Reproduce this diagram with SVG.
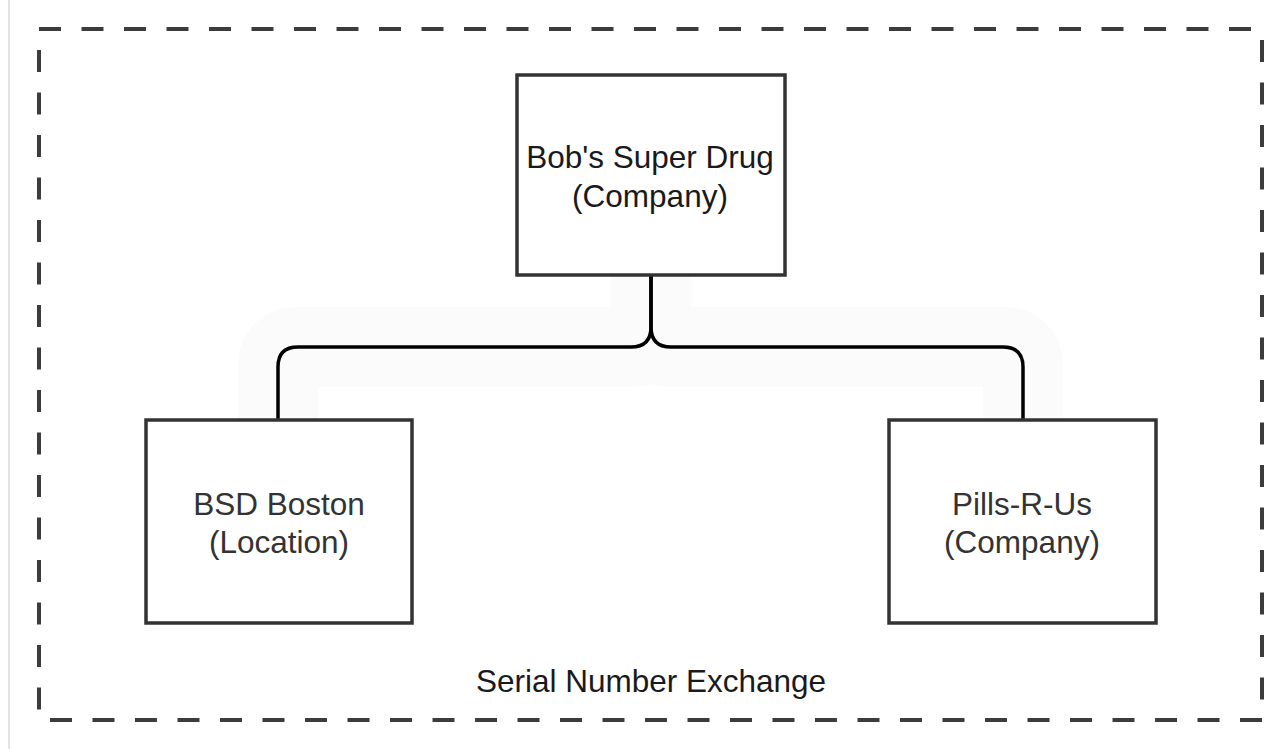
<svg xmlns="http://www.w3.org/2000/svg" width="1264" height="749" viewBox="0 0 1264 749">
  <style>
    .box { fill: #ffffff; stroke: #333333; stroke-width: 3.5; }
    .lbl { font-family: "Liberation Sans", Arial, sans-serif; font-size: 31.5px; text-anchor: middle; fill: #333333; }
    .dark { fill: #1a1a1a; }
    .dash { stroke: #3c3c3c; stroke-width: 4; stroke-dasharray: 22 20.5; fill: none; }
    .edge { fill: none; stroke: #000000; stroke-width: 3.5; }
    .halo { fill: none; stroke: #fbfbfb; stroke-width: 80; stroke-linejoin: round; }
  </style>
  <rect x="0" y="0" width="1264" height="749" fill="#ffffff"/>
  <line x1="9" y1="0" x2="9" y2="749" stroke="#e4e4e4" stroke-width="2"/>

  <g id="container">
    <line class="dash" x1="39" y1="29" x2="1264" y2="29"/>
    <line class="dash" x1="1262" y1="40" x2="1262" y2="720"/>
    <line class="dash" x1="50" y1="720" x2="1264" y2="720"/>
    <line class="dash" x1="39" y1="50" x2="39" y2="720"/>
    <text class="lbl dark" x="651" y="692">Serial Number Exchange</text>
  </g>

  <g id="connectors">
    <path class="halo" d="M651,275 V327 Q651,347 631,347 H298 Q278,347 278,367 V420"/>
    <path class="halo" d="M651,275 V327 Q651,347 671,347 H1003 Q1023,347 1023,367 V420"/>
    <path class="edge" d="M651,275 V327 Q651,347 631,347 H298 Q278,347 278,367 V420"/>
    <path class="edge" d="M651,275 V327 Q651,347 671,347 H1003 Q1023,347 1023,367 V420"/>
  </g>

  <g id="bobs-super-drug">
    <rect class="box" x="517" y="75" width="268" height="200"/>
    <text class="lbl dark" x="650" y="168">Bob's Super Drug</text>
    <text class="lbl dark" x="650" y="207">(Company)</text>
  </g>

  <g id="bsd-boston">
    <rect class="box" x="146" y="420" width="266" height="203"/>
    <text class="lbl" x="279" y="515">BSD Boston</text>
    <text class="lbl" x="279" y="553">(Location)</text>
  </g>

  <g id="pills-r-us">
    <rect class="box" x="889" y="420" width="267" height="203"/>
    <text class="lbl" x="1022" y="515">Pills-R-Us</text>
    <text class="lbl" x="1022" y="553">(Company)</text>
  </g>
</svg>
